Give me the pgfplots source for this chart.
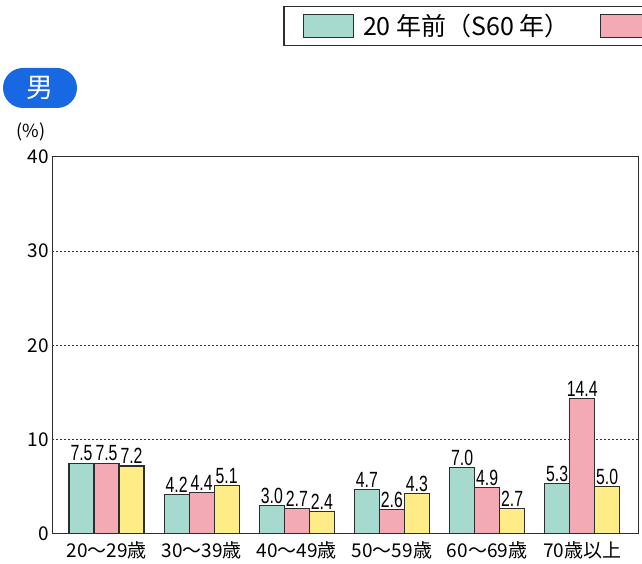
\documentclass[border=0pt]{standalone}
\usepackage{pgfplots}
\pgfplotsset{compat=1.18}
\usepackage{fontspec}
\setmainfont{Noto Sans CJK JP}
\newfontfamily\narrowfont[FakeStretch=0.72]{Liberation Sans}

\definecolor{barteal}{RGB}{166,218,206}
\definecolor{barpink}{RGB}{244,170,181}
\definecolor{baryellow}{RGB}{254,236,134}
\definecolor{edgegray}{RGB}{45,45,45}
\definecolor{pillblue}{RGB}{24,104,228}

\begin{document}
\begin{tikzpicture}[x=1pt,y=1pt]
\useasboundingbox (0,0) rectangle (642,564);

% badge and unit label
\node[fill=pillblue, rounded corners=20pt, minimum width=74pt, minimum height=40pt,
      text=white, font=\fontsize{27}{27}\selectfont, inner sep=0pt] at (40,476) {男};
\node[font=\fontsize{18}{18}\selectfont, inner sep=0pt] at (31,432) {(\%)};

\begin{axis}[
  at={(55,32)}, anchor=south west,
  scale only axis, width=586pt, height=377pt,
  xmin=-0.57, xmax=5.59, ymin=0, ymax=40,
  ybar=0pt, bar width=25pt,
  xtick={0,...,5},
  xticklabels={20～29歳,30～39歳,40～49歳,50～59歳,60～69歳,70歳以上},
  ytick={0,10,20,30,40},
  major tick length=0pt,
  ymajorgrids,
  grid style={draw=black!80, line width=1.1pt, dash pattern=on 1.5pt off 2.5pt},
  axis line style={line width=1.2pt, draw=edgegray},
  tick label style={font=\fontsize{19}{19}\selectfont},
  xticklabel style={yshift=-4pt},
  /pgf/number format/assume math mode=true,
  every axis plot/.append style={draw=edgegray, line width=1.1pt},
  nodes near coords={\pgfmathprintnumber[fixed,fixed zerofill,precision=1,assume math mode=true]{\pgfplotspointmeta}},
  nodes near coords style={font=\narrowfont\fontsize{22}{22}\selectfont, inner sep=1.5pt, text=black},
  legend columns=3,
  legend style={at={(0.394,1.401)}, anchor=north west, draw=edgegray, line width=1.5pt,
                font=\fontsize{25}{25}\selectfont, inner xsep=19pt, inner ysep=6pt,
                /tikz/every odd column/.append style={column sep=7pt},
                /tikz/every even column/.append style={column sep=28pt}},
  legend image code/.code={\draw[#1, line width=1.1pt] (0pt,-11.5pt) rectangle (50pt,11.5pt);},
]
\addplot[fill=barteal] coordinates {(0,7.5) (1,4.2) (2,3.0) (3,4.7) (4,7.0) (5,5.3)};
\addplot[fill=barpink] coordinates {(0,7.5) (1,4.4) (2,2.7) (3,2.6) (4,4.9) (5,14.4)};
\addplot[fill=baryellow] coordinates {(0,7.2) (1,5.1) (2,2.4) (3,4.3) (4,2.7) (5,5.0)};
\legend{20 年前（S60 年）, 10 年前（H7 年）, 現在（H17 年）}
\end{axis}
\end{tikzpicture}
\end{document}
